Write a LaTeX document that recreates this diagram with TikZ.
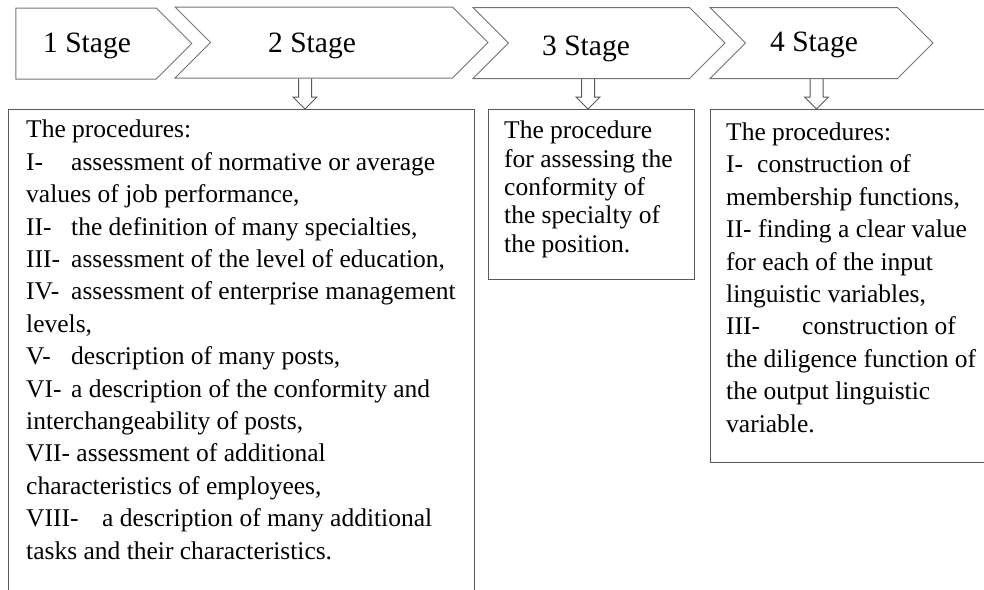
\documentclass[tikz,border=0pt]{standalone}
\usepackage{fontspec}
\setmainfont{LiberationSerif}[Extension=.ttf,UprightFont=*-Regular]
\usetikzlibrary{shapes.symbols}
\usetikzlibrary{calc}
\usetikzlibrary{positioning}
\tikzset{stage/.style={draw=black!55,line width=1pt,shape=signal,signal to=east,
signal pointer angle=90,inner sep=0pt,minimum height=71pt}}
\tikzset{stagein/.style={stage,signal from=west}}
\tikzset{stagetxt/.style={anchor=base west,inner sep=0pt,font=\fontsize{29.5}{32}\selectfont}}
\tikzset{procbox/.style={draw=black!65,line width=1pt,rectangle,inner sep=0pt}}
\tikzset{proctxt/.style={anchor=base west,inner sep=0pt,align=left,
font=\fontsize{25.5}{32.4}\selectfont}}
\tikzset{blockarr/.style={draw=black!65,line width=1pt,line join=miter}}
\newcommand{\proclabel}[2]{\makebox[#1][l]{#2}}
\newcommand{\downblock}[2]{\draw[blockarr] ($(#1)+(-6.5,0)$) -- ($(#2)+(-6.5,12)$)
-- ($(#2)+(-12,12)$) -- (#2) -- ($(#2)+(12,12)$) -- ($(#2)+(6.5,12)$)
-- ($(#1)+(6.5,0)$);}
\begin{document}
\begin{tikzpicture}[x=1pt,y=1pt]
\clip (0,0) rectangle (984,-589);
% stages
\node [stage, minimum width=176pt] (s1) at (86,-43.5) {};
\node [stagein, minimum width=313pt] (s2) at (331.5,-42.5) {};
\node [stagein, minimum width=252pt] (s3) at (599,-43) {};
\node [stagein, minimum width=223pt] (s4) at (821.5,-43) {};
\node [stagetxt] (l1) at (43,-52) {1 Stage};
\node [stagetxt] (l2) at (268,-52) {2 Stage};
\node [stagetxt] (l3) at (542,-55) {3 Stage};
\node [stagetxt] (l4) at (770,-51) {4 Stage};

% procedure boxes (2 and 4 run past the page)
\node [procbox, anchor=north west, minimum width=466pt, minimum height=500pt] (b2)
at (8,-109) {};
\node [procbox, anchor=north west, minimum width=206pt, minimum height=170pt] (b3)
at (488,-109) {};
\node [procbox, anchor=north west, minimum width=300pt, minimum height=353pt] (b4)
at (710,-109) {};

\node [proctxt] (t2) at ($(b2.north west)+(18,-450)$) {The procedures:\\
\proclabel{45pt}{I-}assessment of normative or average\\
values of job performance,\\
\proclabel{45pt}{II-}the definition of many specialties,\\
\proclabel{45pt}{III-}assessment of the level of education,\\
\proclabel{45pt}{IV-}assessment of enterprise management\\
levels,\\
\proclabel{45pt}{V-}description of many posts,\\
\proclabel{45pt}{VI-}a description of the conformity and\\
interchangeability of posts,\\
VII- assessment of additional\\
characteristics of employees,\\
\proclabel{76pt}{VIII-}a description of many additional\\
tasks and their characteristics.};
\node [proctxt, font=\fontsize{25.5}{28.3}\selectfont] (t3)
at ($(b3.north west)+(16,-143)$) {The procedure\\
for assessing the\\
conformity of\\
the specialty of\\
the position.};
\node [proctxt] (t4) at ($(b4.north west)+(16,-323)$) {The procedures:\\
\proclabel{31pt}{I-}construction of\\
membership functions,\\
II- finding a clear value\\
for each of the input\\
linguistic variables,\\
\proclabel{76pt}{III-}construction of\\
the diligence function of\\
the output linguistic\\
variable.};

% arrows
\path (305,0) coordinate (x2) (588,0) coordinate (x3) (816.5,0) coordinate (x4);
\downblock{s2.south -| x2}{b2.north -| x2}
\downblock{s3.south -| x3}{b3.north -| x3}
\downblock{s4.south -| x4}{b4.north -| x4}
\end{tikzpicture}
\end{document}
